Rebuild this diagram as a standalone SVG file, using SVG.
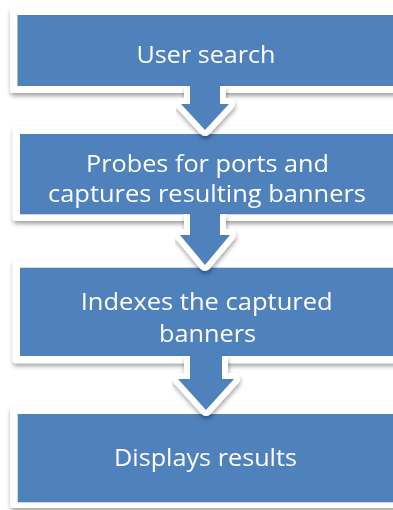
<svg xmlns="http://www.w3.org/2000/svg" width="393" height="510" viewBox="0 0 393 510">
  <defs>
    <filter id="shadow" x="-10%" y="-10%" width="130%" height="140%">
      <feDropShadow dx="0.5" dy="3" stdDeviation="2" flood-color="#000" flood-opacity="0.35"/>
    </filter>
    <style>
      .frame { fill: #FFFFFF; }
      .face { fill: #4F81BD; }
      .label { fill: #FFFFFF; font-family: "Open Sans", "Liberation Sans", sans-serif; font-size: 24px; text-anchor: middle; }
      .edge { fill: none; stroke: #FFFFFF; stroke-width: 12; stroke-linejoin: round; stroke-linecap: butt; }
      .head { fill: #4F81BD; }
    </style>
  </defs>

  <rect width="393" height="510" fill="#FFFFFF"/>

  <!-- process steps -->
  <g id="node-1" filter="url(#shadow)">
    <rect class="frame" x="10" y="7" width="420" height="86" rx="3"/>
    <rect class="face" x="17.5" y="15" width="405" height="71"/>
    <text class="label" x="206" y="63.3" textLength="139" lengthAdjust="spacingAndGlyphs">User search</text>
  </g>

  <g id="node-2" filter="url(#shadow)">
    <rect class="frame" x="12.7" y="126" width="420" height="95" rx="3"/>
    <rect class="face" x="20" y="134" width="405" height="80.3"/>
    <text class="label" x="207.5" y="171.7" textLength="243" lengthAdjust="spacingAndGlyphs">Probes for ports and</text>
    <text class="label" x="207" y="201.7" textLength="318" lengthAdjust="spacingAndGlyphs">captures resulting banners</text>
  </g>

  <g id="node-3" filter="url(#shadow)">
    <rect class="frame" x="12.7" y="260" width="420" height="103.3" rx="3"/>
    <rect class="face" x="20" y="267.7" width="405" height="88.3"/>
    <text class="label" x="206.7" y="310" textLength="252" lengthAdjust="spacingAndGlyphs">Indexes the captured</text>
    <text class="label" x="207.5" y="341.7" textLength="97" lengthAdjust="spacingAndGlyphs">banners</text>
  </g>

  <g id="node-4" filter="url(#shadow)">
    <rect class="frame" x="10" y="406" width="420" height="102" rx="3"/>
    <rect class="face" x="17.7" y="414" width="405" height="88.3"/>
    <text class="label" x="205.5" y="466" textLength="183" lengthAdjust="spacingAndGlyphs">Displays results</text>
  </g>

  <!-- down arrows between steps: white outline under a blue fill -->
  <g id="connectors">
    <g id="arrow-1-2" filter="url(#shadow)">
      <path class="edge" d="M190,86 V104 H181 L205,130 L229,104 H220 V86"/>
      <path class="head" d="M190,83 V104 H181 L205,130 L229,104 H220 V83 Z"/>
    </g>
    <g id="arrow-2-3" filter="url(#shadow)">
      <path class="edge" d="M190,214.3 V235 H180 L205,265 L230,235 H220 V214.3"/>
      <path class="head" d="M190,211 V235 H180 L205,265 L230,235 H220 V211 Z"/>
    </g>
    <g id="arrow-3-4" filter="url(#shadow)">
      <path class="edge" d="M190,356 V379 H178 L206,410 L234,379 H222 V356"/>
      <path class="head" d="M190,353 V379 H178 L206,410 L234,379 H222 V353 Z"/>
    </g>
  </g>
</svg>
